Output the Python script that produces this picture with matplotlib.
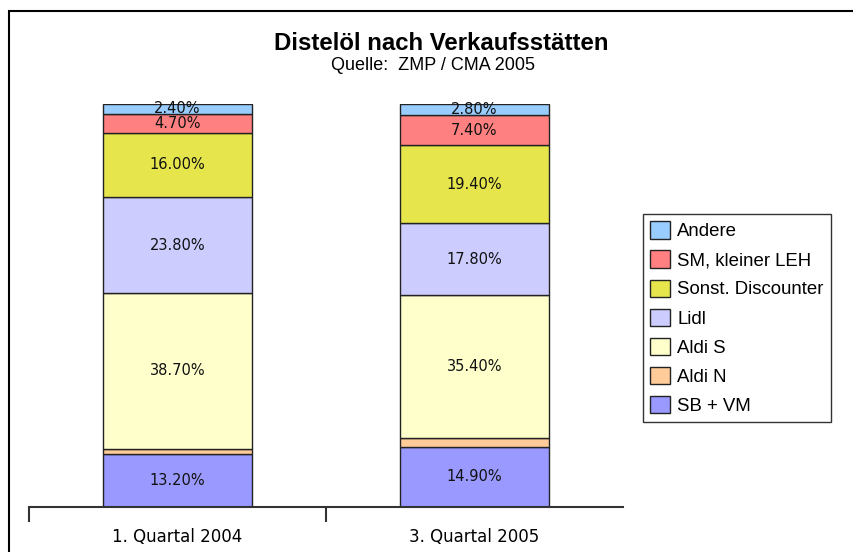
import matplotlib
matplotlib.use("Agg")
import matplotlib.pyplot as plt
import numpy as np
from matplotlib.patches import Rectangle

# Daten (Anteile in %)
quartale = ["1. Quartal 2004", "3. Quartal 2005"]
segmente = ["SB + VM", "Aldi N", "Aldi S", "Lidl", "Sonst. Discounter", "SM, kleiner LEH", "Andere"]
sb_vm = [13.2, 14.9]
aldi_n = [1.2, 2.3]
aldi_s = [38.7, 35.4]
lidl = [23.8, 17.8]
sonst = [16.0, 19.4]
sm_leh = [4.7, 7.4]
andere = [2.4, 2.8]
farben = ["#9999ff", "#ffcc99", "#ffffcc", "#ccccff", "#e6e64c", "#ff8080", "#99ccff"]
mit_label = [True, False, True, True, True, True, True]

werte = [sb_vm, aldi_n, aldi_s, lidl, sonst, sm_leh, andere]

fig = plt.figure(figsize=(8.54, 5.52), dpi=100)
ax = fig.add_axes([29 / 854, 45 / 552, 594 / 854, 403 / 552])

# Rahmen um das Diagramm
fig.patches.append(Rectangle((9 / 854, -0.1), 1.2, 1.1 - 11 / 552, transform=fig.transFigure,
                             fill=False, edgecolor="black", linewidth=1.5))

index = np.arange(len(quartale))
unten = np.zeros(len(quartale))
handles = []
for name, v, c, lab in zip(segmente, werte, farben, mit_label):
    v = np.array(v)
    b = ax.bar(index, v, 0.5, bottom=unten, color=c, edgecolor="#222222", linewidth=1, label=name)
    handles.append(b)
    if lab:
        for i in range(len(index)):
            ax.text(index[i], unten[i] + v[i] / 2, "%.2f%%" % v[i], ha="center", va="center",
                    fontsize=10.5, family="DejaVu Sans", color="#111111")
    unten = unten + v

ax.set_xlim(-0.5, 1.5)
ax.set_ylim(0, 100)
for s in ["left", "right", "top"]:
    ax.spines[s].set_visible(False)
ax.spines["bottom"].set_color("#333333")
ax.spines["bottom"].set_linewidth(1.5)
ax.set_yticks([])
ax.set_xticks([-0.5, 0.5])
ax.set_xticklabels([])
ax.set_xticks(index, minor=True)
ax.set_xticklabels(quartale, minor=True, fontsize=12, family="DejaVu Sans")
ax.tick_params(axis="x", which="major", length=11, width=1.5, color="#333333")
ax.tick_params(axis="x", which="minor", length=0, pad=15)

fig.text(441 / 854, 1 - 43 / 552, "Distelöl nach Verkaufsstätten", ha="center", va="center",
         fontsize=17.3, fontweight="bold", family="Liberation Sans")
fig.text(433 / 854, 1 - 65 / 552, "Quelle:  ZMP / CMA 2005", ha="center", va="center",
         fontsize=13, family="Liberation Sans")

leg = fig.legend(handles[::-1], segmente[::-1], loc="upper left",
                 bbox_to_anchor=(643 / 854, 1 - 214 / 552), fancybox=False, framealpha=1,
                 edgecolor="#333333", prop={"family": "Liberation Sans", "size": 13.4},
                 handlelength=1.05, handleheight=1.05, handletextpad=0.4, labelspacing=0.54,
                 borderpad=0.4, borderaxespad=0)
leg.get_frame().set_linewidth(1)

plt.savefig("out.png", dpi=100)
